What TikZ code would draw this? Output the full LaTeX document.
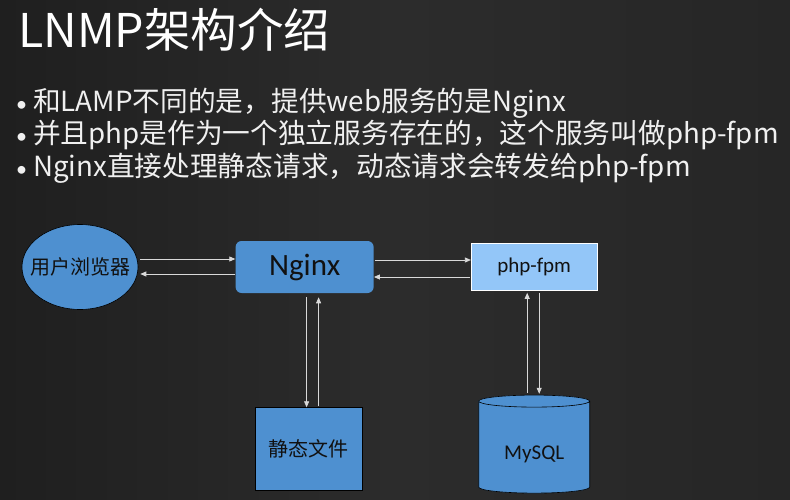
\documentclass[tikz,border=0pt]{standalone}
\usepackage{fontspec}
\setmainfont{Noto Sans CJK SC}
\newfontfamily\cjk{Noto Sans CJK SC}
\newfontfamily\calibri{Carlito}
\usepackage{tikz}
\usetikzlibrary{arrows.meta,positioning,shapes.geometric,calc}
\definecolor{bgedge}{HTML}{1F1F1F}
\definecolor{bgmid}{HTML}{2C2C2C}
\definecolor{bgright}{HTML}{262626}
\definecolor{boxblue}{HTML}{4E90D0}
\definecolor{lightblue}{HTML}{93C6F8}
\definecolor{topblue}{HTML}{86B8E6}
\definecolor{wire}{HTML}{D9D9D9}
\definecolor{ink}{HTML}{111111}
\newcommand{\dotitem}{{\calibri\fontsize{22}{24}\selectfont\textbullet}\hspace{6pt}}

\begin{document}
\begin{tikzpicture}[x=1pt,y=-1pt,>={Triangle[length=6pt,width=5pt]}]
  \tikzset{block/.style={fill=boxblue,draw=black,line width=0.6pt,inner sep=0pt,text=ink,font=\cjk\fontsize{20}{24}\selectfont},
    point/.style={anchor=base west,inner sep=0pt,text=white!94!black,font=\fontsize{27.7}{32}\selectfont},
    flow/.style={->,draw=wire,line width=0.8pt}}
  \shade[left color=bgedge,right color=bgright,middle color=bgmid] (0,0) rectangle (790,500);
  \useasboundingbox (0,0) rectangle (790,500);
  \node[anchor=base west,inner sep=0pt,text=white,font=\fontsize{46.5}{50}\selectfont] (title) at (18,48) {LNMP架构介绍};
  \node[point] (point1) at (16,112) {\dotitem 和LAMP不同的是，提供web服务的是Nginx};
  \node[point] (point2) at (16,144) {\dotitem 并且php是作为一个独立服务存在的，这个服务叫做php-fpm};
  \node[point] (point3) at (16,176) {\dotitem Nginx直接处理静态请求，动态请求会转发给php-fpm};
  \node[block,ellipse,minimum width=116pt,minimum height=85pt] (browser) at (80,267) {\makebox[0pt][c]{用户浏览器}};
  \node[block,draw=none,rounded corners=6pt,minimum width=138pt,minimum height=52pt,font=\calibri\fontsize{31}{34}\selectfont,right=97pt of browser] (nginx) {Nginx};
  \node[block,draw=white,fill=lightblue,minimum width=126pt,minimum height=47pt,font=\calibri\fontsize{21}{24}\selectfont,right=97pt of nginx] (phpfpm) {php-fpm};
  \node[block,minimum width=107pt,minimum height=83pt,below=114pt of nginx,xshift=4pt] (static) {静态文件};
  \node[block,cylinder,shape border rotate=90,aspect=0.2,cylinder uses custom fill,cylinder body fill=boxblue,cylinder end fill=topblue,minimum width=111pt,minimum height=98pt,font=\calibri\fontsize{21}{24}\selectfont,below=104pt of phpfpm] (mysql) {\raisebox{-12pt}[0pt][0pt]{MySQL}};
  \draw[flow,shorten <=2pt] ([yshift=8pt]browser.east) -- ([yshift=8pt]browser.east -| nginx.west);
  \draw[flow,shorten >=2pt] ([yshift=-7pt]nginx.west) -- ([yshift=-7pt]nginx.west -| browser.east);
  \draw[flow,shorten <=1pt] ([yshift=7pt]nginx.east) -- ([yshift=7pt]nginx.east -| phpfpm.west);
  \draw[flow,shorten <=1pt] ([yshift=-10pt]phpfpm.west) -- ([yshift=-10pt]phpfpm.west -| nginx.east);
  \draw[flow,shorten <=4pt] ([xshift=2pt]nginx.south) -- ([xshift=2pt]nginx.south |- static.north);
  \draw[flow,shorten <=1pt,shorten >=4pt] ([xshift=14pt]nginx.south |- static.north) -- ([xshift=14pt]nginx.south);
  \draw[flow,shorten <=2pt,shorten >=2pt] ([xshift=-7pt]phpfpm.south |- mysql.north) -- ([xshift=-7pt]phpfpm.south);
  \draw[flow,shorten <=2pt,shorten >=1pt] ([xshift=5pt]phpfpm.south) -- ([xshift=5pt]phpfpm.south |- mysql.north);
\end{tikzpicture}
\end{document}
